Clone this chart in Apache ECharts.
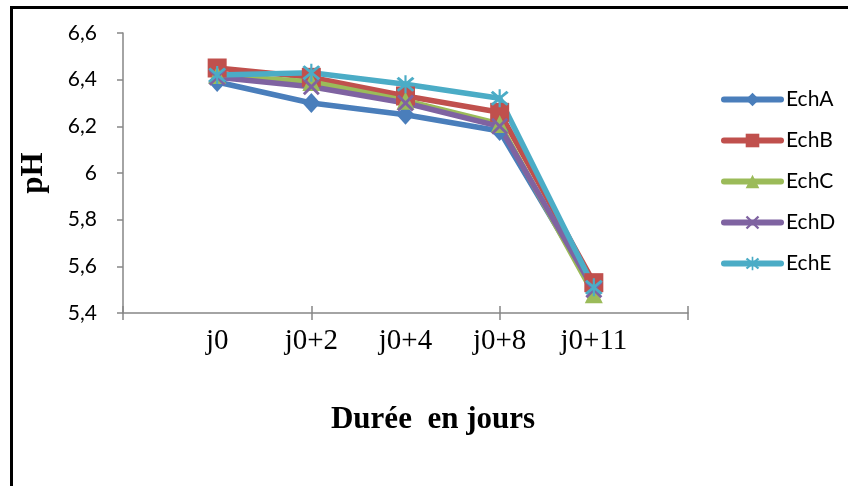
<!DOCTYPE html>
<html><head><meta charset="utf-8">
<script src="https://cdn.jsdelivr.net/npm/echarts@6/dist/echarts.min.js"></script>
<style>html,body{margin:0;padding:0;background:#fff}#c{width:848px;height:486px}</style>
</head><body><div id="c"></div>
<script>
var categories = ['j0', 'j0+2', 'j0+4', 'j0+8', 'j0+11'];
var seriesNames = ['EchA', 'EchB', 'EchC', 'EchD', 'EchE'];
var echA = [6.39, 6.30, 6.25, 6.18, 5.50];
var echB = [6.45, 6.41, 6.33, 6.26, 5.53];
var echC = [6.42, 6.39, 6.31, 6.21, 5.48];
var echD = [6.41, 6.37, 6.30, 6.20, 5.50];
var echE = [6.42, 6.43, 6.38, 6.32, 5.51];
var yTicks = [5.4, 5.6, 5.8, 6, 6.2, 6.4, 6.6];

var colors = ['#4A7EBB', '#C0504D', '#9BBB59', '#7F63A1', '#4BACC6'];
var xPath = 'path://M0,1.2 L1.2,0 L5,3.8 L8.8,0 L10,1.2 L6.2,5 L10,8.8 L8.8,10 L5,6.2 L1.2,10 L0,8.8 L3.8,5 Z';
var starPath = 'path://M0,1.2 L1.2,0 L5,3.8 L8.8,0 L10,1.2 L6.2,5 L10,8.8 L8.8,10 L5,6.2 L1.2,10 L0,8.8 L3.8,5 Z M4.4,-1 L5.6,-1 L5.6,11 L4.4,11 Z';
var symbols = ['diamond', 'rect', 'triangle', xPath, starPath];
var sizes = [[18, 20], 19, 18, 17, 18];
var allData = [echA, echB, echC, echD, echE];

var axisCats = [''].concat(categories).concat(['']);
function pad(arr) { return ['-'].concat(arr).concat(['-']); }

var series = seriesNames.map(function (n, i) {
  return {
    name: n, type: 'line', data: pad(allData[i]),
    symbol: symbols[i], symbolSize: sizes[i], showAllSymbol: true,
    lineStyle: { width: 5.5, color: colors[i], cap: 'round', join: 'round' },
    itemStyle: { color: colors[i] },
    emphasis: { disabled: true }, animation: false
  };
});

var chart = echarts.init(document.getElementById('c'));
chart.setOption({
  animation: false,
  grid: { left: 123, right: 160, top: 33, bottom: 173, containLabel: false },
  legend: {
    orient: 'vertical', left: 716, top: 84,
    itemWidth: 57, itemHeight: 17, itemGap: 20,
    data: seriesNames,
    lineStyle: { width: 6, cap: 'round' },
    textStyle: { fontFamily: 'Lato', fontSize: 21, color: '#000' }
  },
  xAxis: [{
    type: 'category', data: axisCats, boundaryGap: false,
    axisLine: { lineStyle: { color: '#868686', width: 1.5 } },
    axisTick: { show: true, length: 7, interval: function (i) { return i % 2 === 0; }, lineStyle: { color: '#868686', width: 1.5 } },
    axisLabel: { interval: 0, margin: 14, fontFamily: 'Liberation Serif', fontSize: 29, color: '#000' },
    splitLine: { show: false }
  }, {
    type: 'category', data: axisCats, boundaryGap: false, position: 'bottom',
    axisLine: { show: false },
    axisTick: { show: true, inside: true, length: 7, interval: function (i) { return i % 2 === 0; }, lineStyle: { color: '#868686', width: 1.5 } },
    axisLabel: { show: false }, splitLine: { show: false }
  }],
  yAxis: {
    type: 'value', min: yTicks[0], max: yTicks[yTicks.length - 1], interval: 0.2,
    name: 'pH', nameLocation: 'middle', nameGap: 74, nameRotate: 90,
    nameTextStyle: { fontFamily: 'Liberation Serif', fontWeight: 'bold', fontSize: 31, color: '#000' },
    axisLine: { show: true, lineStyle: { color: '#868686', width: 1.5 } },
    axisTick: { show: true, length: 6, lineStyle: { color: '#868686', width: 1.5 } },
    axisLabel: {
      margin: 26, fontFamily: 'Lato', fontSize: 21, color: '#000',
      formatter: function (v) { return Math.abs(v - Math.round(v)) < 1e-9 ? String(Math.round(v)) : v.toFixed(1).replace('.', ','); }
    },
    splitLine: { show: false }
  },
  graphic: [
    { type: 'rect', shape: { x: 10, y: 6, width: 840, height: 3 }, style: { fill: '#000' }, silent: true, z: 100 },
    { type: 'rect', shape: { x: 10, y: 6, width: 3, height: 480 }, style: { fill: '#000' }, silent: true, z: 100 },
    { type: 'text', x: 433, y: 420, style: { text: 'Durée  en jours', fontFamily: 'Liberation Serif', fontWeight: 'bold', fontSize: 31, fill: '#000', textAlign: 'center', textVerticalAlign: 'middle' } }
  ],
  series: series
});
</script>
</body></html>
